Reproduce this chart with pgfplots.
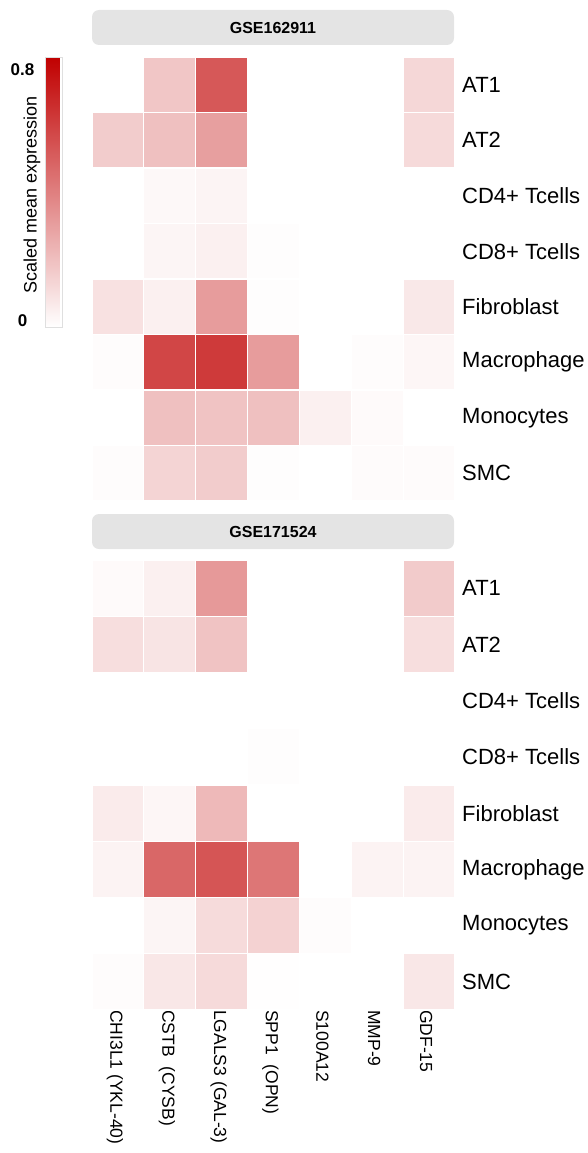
\documentclass[border=0pt]{standalone}
\usepackage{pgfplots}
\pgfplotsset{compat=1.18}
\usepackage{pgfplotstable}
\usepackage{fontspec}
\setmainfont{Liberation Sans}

% columns: 0 CHI3L1, 1 CSTB, 2 LGALS3, 3 SPP1, 4 S100A12, 5 MMP-9, 6 GDF-15
% rows: 0 AT1, 1 AT2, 2 CD4+, 3 CD8+, 4 Fibroblast, 5 Macrophage, 6 Monocytes, 7 SMC
\pgfplotstableread{
x y v
1 0 0.17
2 0 0.54
6 0 0.115
0 1 0.15
1 1 0.19
2 1 0.30
6 1 0.105
1 2 0.003
2 2 0.017
1 3 0.014
2 3 0.03
3 3 -0.012
0 4 0.08
1 4 0.03
2 4 0.31
3 4 -0.012
6 4 0.058
0 5 -0.01
1 5 0.60
2 5 0.64
3 5 0.31
5 5 -0.01
6 5 0.01
1 6 0.19
2 6 0.18
3 6 0.19
4 6 0.03
5 6 -0.003
0 7 -0.01
1 7 0.125
2 7 0.15
3 7 -0.012
5 7 -0.005
6 7 -0.005
}\dataA

\pgfplotstableread{
x y v
0 0 -0.003
1 0 0.03
2 0 0.32
6 0 0.155
0 1 0.09
1 1 0.07
2 1 0.18
6 1 0.09
3 3 -0.012
0 4 0.047
1 4 0.01
2 4 0.216
6 4 0.047
0 5 0.02
1 5 0.49
2 5 0.55
3 5 0.44
5 5 0.02
6 5 0.02
1 6 0.014
2 6 0.10
3 6 0.13
4 6 -0.01
0 7 -0.01
1 7 0.06
2 7 0.105
3 7 -0.015
6 7 0.06
}\dataB

\pgfdeclareplotmark{cellA}{\pgfpathrectangle{\pgfpoint{-25.93pt}{-27.75pt}}{\pgfpoint{51.86pt}{55.5pt}}\pgfusepathqfillstroke}
\pgfdeclareplotmark{cellB}{\pgfpathrectangle{\pgfpoint{-25.93pt}{-28.125pt}}{\pgfpoint{51.86pt}{56.25pt}}\pgfusepathqfillstroke}

\definecolor{stripgray}{RGB}{228,228,228}

\pgfplotsset{
  hm/.style={
    scale only axis,
    width=363pt,
    xmin=-0.5, xmax=6.5, ymin=-0.5, ymax=7.5,
    y dir=reverse,
    axis line style={draw=none},
    major tick length=0pt,
    colormap={redmap}{rgb255(0cm)=(255,255,255); rgb255(1cm)=(192,0,0)},
    point meta min=-0.02, point meta max=0.84,
    ytick={0,...,7},
    yticklabels={AT1,AT2,CD4+ Tcells,CD8+ Tcells,Fibroblast,Macrophage,Monocytes,SMC},
    yticklabel pos=right,
    yticklabel style={anchor=west, inner sep=0pt, xshift=7pt, font=\fontsize{22}{22}\selectfont},
    clip=false,
  },
}

\begin{document}
\begin{tikzpicture}
\begin{axis}[hm,
  at={(92pt,-57pt)}, anchor=north west,
  height=444pt,
  xtick=\empty,
  colorbar,
  colorbar style={
    at={(parent axis.north west)}, anchor=north east, xshift=-38pt,
    scale only axis, width=17pt, height=270pt,
    ytick={0,0.8}, yticklabels={0,0.8},
    yticklabel pos=left,
    major tick length=0pt,
    /pgf/number format/assume math mode=true,
    yticklabel style={font=\bfseries\fontsize{17}{17}\selectfont, inner sep=0pt, anchor=center, xshift=-23pt},
    axis line style={draw=gray!25, line width=0.8pt},
  },
]
\addplot[scatter, only marks, mark=cellA, point meta=explicit,
  scatter/use mapped color={draw=white, fill=mapped color},
  mark options={line width=1.2pt}]
  table[x=x, y=y, meta=v] {\dataA};
\end{axis}

\begin{axis}[hm,
  at={(92pt,-560pt)}, anchor=north west,
  height=450pt,
  xtick={0,...,6},
  xticklabels={CHI3L1 (YKL-40), CSTB\ \ (CYSB), LGALS3 (GAL-3), SPP1\ \ (OPN), S100A12, MMP-9, GDF-15},
  xticklabel style={rotate=-90, anchor=west, inner sep=0pt, yshift=-3pt, font=\fontsize{17.5}{17.5}\selectfont},
]
\addplot[scatter, only marks, mark=cellB, point meta=explicit,
  scatter/use mapped color={draw=white, fill=mapped color},
  mark options={line width=1.2pt}]
  table[x=x, y=y, meta=v] {\dataB};
\end{axis}

% facet strips
\fill[stripgray, rounded corners=7pt] (92pt,-10pt) rectangle (454pt,-45pt);
\node[font=\bfseries\fontsize{16}{16}\selectfont] at (273pt,-27.5pt) {GSE162911};
\fill[stripgray, rounded corners=7pt] (92pt,-514pt) rectangle (454pt,-549pt);
\node[font=\bfseries\fontsize{16}{16}\selectfont] at (273pt,-531.5pt) {GSE171524};

% colorbar title
\node[rotate=90, font=\fontsize{18}{18}\selectfont] at (32pt,-195pt) {Scaled mean expression};

\pgfresetboundingbox
\path[use as bounding box] (0pt,0pt) rectangle (587pt,-1153pt);
\end{tikzpicture}
\end{document}
